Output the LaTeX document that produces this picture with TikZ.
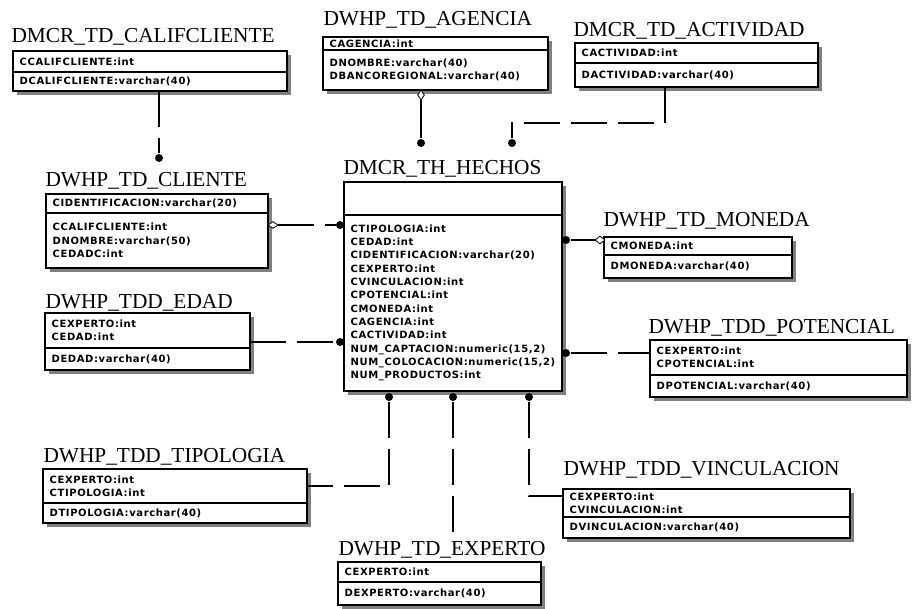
\documentclass[tikz,border=0pt]{standalone}
\usepackage{fontspec}
\usetikzlibrary{positioning,shadows,shapes.geometric}
\newfontfamily\titlefamily{Liberation Serif}
\newfontfamily\attrfamily{DejaVu Sans}[LetterSpace=6]

\tikzset{every picture/.style={line width=0.75pt}}
\tikzset{
  enttitle/.style={anchor=base west, inner sep=0pt, font=\titlefamily\fontsize{16}{18}\selectfont},
  entpart/.style={draw, line width=0.9pt, fill=white, anchor=north west, outer sep=0pt,
    inner xsep=5pt, inner ysep=0pt, align=left,
    font=\attrfamily\bfseries\fontsize{7.5}{10}\selectfont,
    general shadow={shadow xshift=3pt, shadow yshift=-3pt, fill=black!50}},
  relline/.style={line width=0.9pt, dash pattern=on 27pt off 8.25pt},
  reldot/.style={circle, fill, inner sep=0pt, minimum size=6pt},
  reldiamond/.style={diamond, draw, fill=white, inner sep=0pt, line width=0.6pt},
}

\begin{document}
\begin{tikzpicture}[x=0.75pt,y=0.75pt,yscale=-1,xscale=1]
\useasboundingbox (0,0) rectangle (912,609);

% Entity DMCR_TD_CALIFCLIENTE
\node[entpart, text width=195.5pt, minimum height=15.75pt] (califK) at (13,51) {CCALIFCLIENTE:int};
\node[entpart, text width=195.5pt, minimum height=14.25pt] (califA) at (califK.south west) {DCALIFCLIENTE:varchar(40)};
\node[enttitle] (califT) at (11,43) {DMCR\_TD\_CALIFCLIENTE};

% Entity DWHP_TD_AGENCIA
\node[entpart, text width=158.75pt, minimum height=9.75pt] (agenK) at (323,37) {CAGENCIA:int};
\node[entpart, text width=158.75pt, minimum height=30pt] (agenA) at (agenK.south west) {DNOMBRE:varchar(40)\\DBANCOREGIONAL:varchar(40)};
\node[enttitle] (agenT) at (323,26) {DWHP\_TD\_AGENCIA};

% Entity DMCR_TD_ACTIVIDAD
\node[entpart, text width=172.25pt, minimum height=15pt] (actK) at (575,43) {CACTIVIDAD:int};
\node[entpart, text width=172.25pt, minimum height=18pt] (actA) at (actK.south west) {DACTIVIDAD:varchar(40)};
\node[enttitle] (actT) at (573,37) {DMCR\_TD\_ACTIVIDAD};

% Entity DWHP_TD_CLIENTE
\node[entpart, text width=156.5pt, minimum height=14.25pt] (cliK) at (46,194) {CIDENTIFICACION:varchar(20)};
\node[entpart, text width=156.5pt, minimum height=41.25pt] (cliA) at (cliK.south west) {CCALIFCLIENTE:int\\DNOMBRE:varchar(50)\\CEDADC:int};
\node[enttitle] (cliT) at (45,187) {DWHP\_TD\_CLIENTE};

% Entity DMCR_TH_HECHOS
\node[entpart, text width=153.5pt, minimum height=24.75pt] (hechK) at (344,182) {};
\node[entpart, text width=153.5pt, minimum height=132pt] (hechA) at (hechK.south west) {CTIPOLOGIA:int\\CEDAD:int\\CIDENTIFICACION:varchar(20)\\CEXPERTO:int\\CVINCULACION:int\\CPOTENCIAL:int\\CMONEDA:int\\CAGENCIA:int\\CACTIVIDAD:int\\NUM\_CAPTACION:numeric(15,2)\\NUM\_COLOCACION:numeric(15,2)\\NUM\_PRODUCTOS:int};
\node[enttitle] (hechT) at (343,175) {DMCR\_TH\_HECHOS};

% Entity DWHP_TD_MONEDA
\node[entpart, text width=131pt, minimum height=13.5pt] (monK) at (604,237) {CMONEDA:int};
\node[entpart, text width=131pt, minimum height=17.25pt] (monA) at (monK.south west) {DMONEDA:varchar(40)};
\node[enttitle] (monT) at (603,227) {DWHP\_TD\_MONEDA};

% Entity DWHP_TDD_EDAD
\node[entpart, text width=143.75pt, minimum height=26.25pt] (edadK) at (45,313) {CEXPERTO:int\\CEDAD:int};
\node[entpart, text width=143.75pt, minimum height=16.5pt] (edadA) at (edadK.south west) {DEDAD:varchar(40)};
\node[enttitle] (edadT) at (45,308) {DWHP\_TDD\_EDAD};

% Entity DWHP_TDD_POTENCIAL
\node[entpart, text width=182.75pt, minimum height=26.25pt] (potK) at (650,340) {CEXPERTO:int\\CPOTENCIAL:int};
\node[entpart, text width=182.75pt, minimum height=16.5pt] (potA) at (potK.south west) {DPOTENCIAL:varchar(40)};
\node[enttitle] (potT) at (648,333) {DWHP\_TDD\_POTENCIAL};

% Entity DWHP_TDD_TIPOLOGIA
\node[entpart, text width=188pt, minimum height=25.5pt] (tipK) at (43,469) {CEXPERTO:int\\CTIPOLOGIA:int};
\node[entpart, text width=188pt, minimum height=15pt] (tipA) at (tipK.south west) {DTIPOLOGIA:varchar(40)};
\node[enttitle] (tipT) at (43,462) {DWHP\_TDD\_TIPOLOGIA};

% Entity DWHP_TDD_VINCULACION
\node[entpart, text width=205.25pt, minimum height=21pt] (vinK) at (563,489) {CEXPERTO:int\\CVINCULACION:int};
\node[entpart, text width=205.25pt, minimum height=15.75pt] (vinA) at (vinK.south west) {DVINCULACION:varchar(40)};
\node[enttitle] (vinT) at (563,475) {DWHP\_TDD\_VINCULACION};

% Entity DWHP_TD_EXPERTO
\node[entpart, text width=142.25pt, minimum height=15pt] (expK) at (338,562) {CEXPERTO:int};
\node[entpart, text width=142.25pt, minimum height=17.25pt] (expA) at (expK.south west) {DEXPERTO:varchar(40)};
\node[enttitle] (expT) at (338,555) {DWHP\_TD\_EXPERTO};

% Relationship ends
\node[reldot] (califDot) at (159,158) {};
\node[reldiamond, minimum width=5.25pt, minimum height=7.5pt] (agenDia) at (421,95) {};
\node[reldot] (agenDot) at (421,143) {};
\node[reldot] (actDot) at (512,143) {};
\coordinate (actTurn) at (665,123);
\node[reldiamond, minimum width=7.5pt, minimum height=5.25pt] (cliDia) at (273,225) {};
\node[reldot] (cliDot) at (340,225) {};
\node[reldot] (edadDot) at (340,342) {};
\node[reldot] (monDot) at (566,240) {};
\node[reldiamond, minimum width=7.5pt, minimum height=6pt] (monDia) at (600,240) {};
\node[reldot] (potDot) at (566,353) {};
\node[reldot] (tipDot) at (389,397) {};
\node[reldot] (expDot) at (453,397) {};
\node[reldot] (vinDot) at (529,397) {};
\coordinate (vinTurn) at (529,496);

% Relationship lines
\draw[relline] (califDot |- califA.south) -- (califDot);
\draw[relline, solid] (agenDia) -- (agenDot);
\draw[relline] (actTurn |- actA.south) -- (actTurn) -- (actTurn -| actDot) -- (actDot);
\draw[relline] (cliDia) -- (cliDot);
\draw[relline] (edadDot -| edadK.east) -- (edadDot);
\draw[relline, solid] (monDot) -- (monDia);
\draw[relline] (potDot) -- (potDot -| potK.west);
\draw[relline] (tipDot) -- (tipDot |- tipK.east) -- (tipK.east);
\draw[relline] (expDot) -- (expDot |- expT.north);
\draw[relline] (vinDot) -- (vinTurn) -- (vinTurn -| vinK.west);

\end{tikzpicture}
\end{document}
